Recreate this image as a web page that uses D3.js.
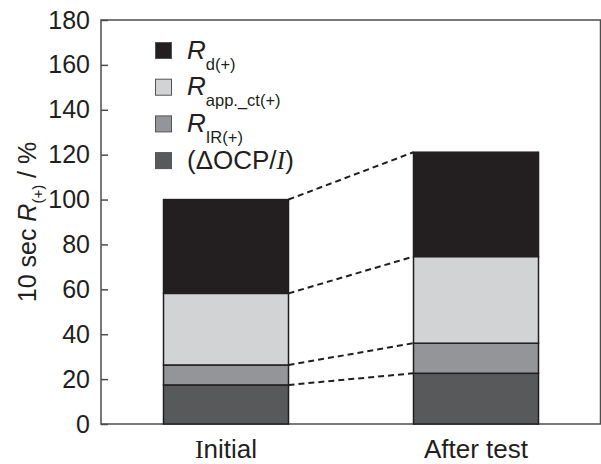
<!DOCTYPE html>
<html>
<head>
<meta charset="utf-8">
<script src="https://cdn.jsdelivr.net/npm/d3@7"></script>
<style>
  html, body { margin: 0; padding: 0; background: #fff; }
  svg { display: block; font-family: "Liberation Sans", Arial, sans-serif; }
</style>
</head>
<body>
<svg id="chart" width="601" height="464"></svg>
<script>
// Stacked contributions to the 10 s resistance, in % of the initial total
const categories = ["Initial", "After test"];
const seriesKeys = ["ocp", "ir", "app", "d"];
const ocpValues = [17.4, 22.6];   // (ΔOCP/I)
const irValues  = [8.9, 13.4];    // R_IR(+)
const appValues = [31.9, 38.6];   // R_app._ct(+)
const dValues   = [41.8, 46.5];   // R_d(+)
const yTicks = [0, 20, 40, 60, 80, 100, 120, 140, 160, 180];

const colors = { ocp: "#58595b", ir: "#939598", app: "#d1d3d4", d: "#231f20" };

const rows = categories.map((c, i) => ({
  cat: c, ocp: ocpValues[i], ir: irValues[i], app: appValues[i], d: dValues[i]
}));
const stacked = d3.stack().keys(seriesKeys)(rows);

const svg = d3.select("#chart");
const plotLeft = 101, plotRight = 600.5, plotTop = 20, plotBottom = 424;

const x = d3.scaleBand().domain(categories).range([plotLeft, 601])
  .paddingInner(0.5).paddingOuter(0.25);
const y = d3.scaleLinear().domain([0, 180]).range([plotBottom, plotTop]);

// plot frame
svg.append("rect")
  .attr("x", plotLeft).attr("y", plotTop)
  .attr("width", plotRight - plotLeft).attr("height", plotBottom - plotTop)
  .attr("fill", "none").attr("stroke", "#4d4d4d").attr("stroke-width", 1.5);

// stacked bars
stacked.forEach(layer => {
  svg.append("g").selectAll("rect").data(layer).join("rect")
    .attr("x", d => x(d.data.cat))
    .attr("width", x.bandwidth())
    .attr("y", d => y(d[1]))
    .attr("height", d => y(d[0]) - y(d[1]))
    .attr("fill", colors[layer.key])
    .attr("stroke", "#231f20")
    .attr("stroke-width", 1.5);
});

// dashed links between matching segment tops
stacked.forEach(layer => {
  const a = layer[0], b = layer[1];
  svg.append("line")
    .attr("x1", x(categories[0]) + x.bandwidth())
    .attr("y1", y(a[1]))
    .attr("x2", x(categories[1]))
    .attr("y2", y(b[1]))
    .attr("stroke", "#231f20")
    .attr("stroke-width", 2)
    .attr("stroke-dasharray", "6,4");
});

// y axis: inward ticks, labels on the left
const yAxis = d3.axisLeft(y).tickValues(yTicks).tickSizeInner(-7).tickSizeOuter(0).tickPadding(11);
const gy = svg.append("g").attr("transform", `translate(${plotLeft},0)`).call(yAxis);
gy.select(".domain").remove();
gy.selectAll(".tick line").attr("stroke", "#4d4d4d").attr("stroke-width", 1.5);
gy.selectAll(".tick text")
  .attr("font-size", 25).attr("fill", "#231f20")
  .attr("font-family", "Liberation Sans, Arial, sans-serif");

// x category labels
const xl = svg.append("g");
categories.forEach(c => {
  const t = xl.append("text")
    .attr("x", x(c) + x.bandwidth() / 2)
    .attr("y", 458)
    .attr("text-anchor", "middle")
    .attr("font-size", 26)
    .attr("fill", "#231f20");
  if (c === "Initial") {
    t.append("tspan").attr("font-family", "Liberation Serif, serif").text("I");
    t.append("tspan").text("nitial");
  } else {
    t.text(c);
  }
});

// y axis title
const yt = svg.append("text")
  .attr("transform", `translate(36,${(plotTop + plotBottom) / 2}) rotate(-90)`)
  .attr("text-anchor", "middle")
  .attr("font-size", 25)
  .attr("fill", "#231f20");
yt.append("tspan").text("10 sec ");
yt.append("tspan").attr("font-style", "italic").text("R");
yt.append("tspan").attr("font-size", 15).attr("dy", 7).text("(+)");
yt.append("tspan").attr("dy", -7).text(" / %");

// legend
const legendItems = [
  { key: "d",   main: "R", sub: "d(+)" },
  { key: "app", main: "R", sub: "app._ct(+)" },
  { key: "ir",  main: "R", sub: "IR(+)" },
  { key: "ocp", main: null }
];
const lg = svg.append("g");
legendItems.forEach((it, i) => {
  const ty = 42 + i * 36.7;
  lg.append("rect")
    .attr("x", 155.5).attr("y", ty + 0.5)
    .attr("width", 16).attr("height", 16)
    .attr("fill", colors[it.key])
    .attr("stroke", "#555").attr("stroke-width", 1);
  const t = lg.append("text")
    .attr("x", 187).attr("y", ty + 16.5)
    .attr("font-size", 26).attr("fill", "#231f20");
  if (it.main) {
    t.append("tspan").attr("font-style", "italic").text(it.main);
    t.append("tspan").attr("font-size", 16.5).attr("dy", 11).text(it.sub);
  } else {
    t.append("tspan").text("(ΔOCP/");
    t.append("tspan").attr("font-family", "Liberation Serif, serif").attr("font-style", "italic").text("I");
    t.append("tspan").text(")");
  }
});
</script>
</body>
</html>
